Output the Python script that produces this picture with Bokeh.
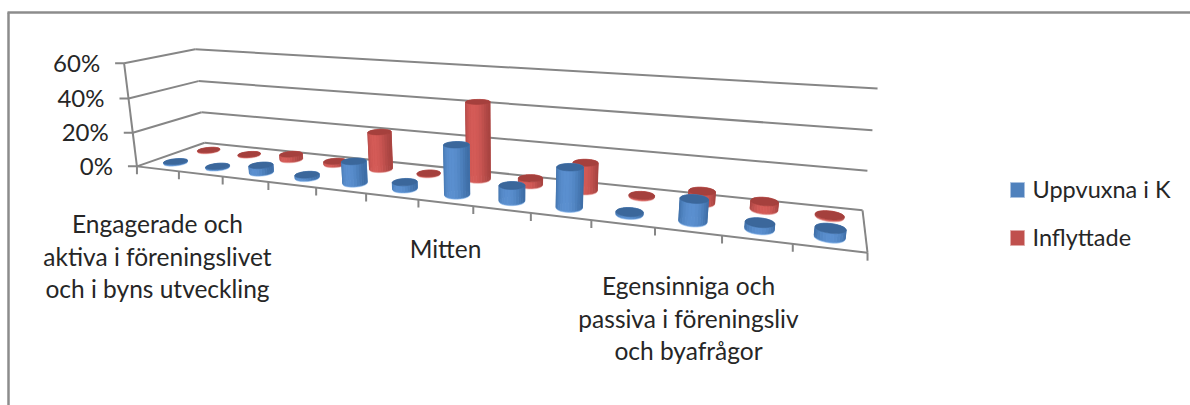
import numpy as np
from bokeh.plotting import figure
from bokeh.models import Range1d, ColumnDataSource
from bokeh.core.properties import value
from bokeh.embed import file_html
from bokeh.resources import INLINE

# ---- data (percent)
series_names = ["Uppvuxna i K", "Inflyttade"]
uppvuxna = [0.5, 0.5, 4.0, 1.5, 12.0, 3.5, 26.5, 8.0, 20.5, 1.0, 11.0, 3.0, 4.0]
inflyttade = [0.2, 0.2, 3.0, 1.5, 21.5, 0.2, 43.0, 3.5, 15.0, 0.5, 6.0, 4.0, 0.5]
y_ticks = [0, 20, 40, 60]
y_labels = ["0%", "20%", "40%", "60%"]
cat_groups = [
    ["Engagerade och", "aktiva i föreningslivet", "och i byns utveckling"],
    ["Mitten"],
    ["Egensinniga och", "passiva i föreningsliv", "och byafrågor"],
]
n_cat = len(uppvuxna)
FONT = "Lato"
GRAY = "#868686"
TXT = "#262626"

# ---- camera fitted to the chart's box corners (u, depth, percent) -> screen px
calib = [
    ((0, 0, 0), (137, 165)), ((0, 1, 0), (203, 143)),
    ((1, 0, 0), (867, 252)), ((1, 1, 0), (862, 210)),
    ((0, 0, 60), (123, 63)), ((0, 1, 60), (195, 49)),
    ((1, 1, 60), (877, 88)), ((0, 1, 20), (202, 111)),
    ((1, 1, 20), (867, 170)), ((6 / 13, 0, 0), (418, 200)),
]
A, b = [], []
for (X, Y, Z), (sx, sy) in calib:
    A.append([X, Y, Z, 1, 0, 0, 0, 0, -sx * X, -sx * Y, -sx * Z]); b.append(sx)
    A.append([0, 0, 0, 0, X, Y, Z, 1, -sy * X, -sy * Y, -sy * Z]); b.append(sy)
M = np.append(np.linalg.lstsq(np.array(A, float), np.array(b, float), rcond=None)[0], 1.0).reshape(3, 4)


def proj(u, w, h):
    v = M @ np.array([u, w, h, 1.0])
    return v[0] / v[2], v[1] / v[2]


def mix(c1, c2, t):
    a = [int(c1[i:i + 2], 16) for i in (1, 3, 5)]
    d = [int(c2[i:i + 2], 16) for i in (1, 3, 5)]
    return "#%02x%02x%02x" % tuple(int(round(p + (q - p) * t)) for p, q in zip(a, d))


p = figure(width=1190, height=405, output_backend="svg", toolbar_location=None,
           x_range=Range1d(0, 1190), y_range=Range1d(405, 0), min_border=0,
           outline_line_color=None, background_fill_color="#ffffff")
p.xaxis.visible = False
p.yaxis.visible = False
p.grid.visible = False

# outer frame
p.multi_line([[8, 8], [7, 1190]], [[12, 405], [12, 12]], line_color="#8c8c8c", line_width=2.5)

# walls, floor and axes
xs, ys = [], []


def seg(a, b):
    pa, pb = proj(*a), proj(*b)
    xs.append([pa[0], pb[0]])
    ys.append([pa[1], pb[1]])


for t in y_ticks:
    seg((0, 0, t), (0, 1, t))
    seg((0, 1, t), (1, 1, t))
    x0, y0 = proj(0, 0, t)
    xs.append([x0 - 9, x0])
    ys.append([y0, y0])
seg((0, 0, 0), (0, 0, 60))
seg((0, 0, 0), (1, 0, 0))
seg((1, 0, 0), (1, 1, 0))
for i in range(1, n_cat + 1):
    x0, y0 = proj(i / n_cat, 0, 0)
    xs.append([x0, x0])
    ys.append([y0, y0 + 8])
x0, y0 = proj(0, 0, 0)
xs.append([x0, x0])
ys.append([y0, y0 + 8])
p.multi_line(xs, ys, line_color=GRAY, line_width=2)

# cylinders
RU, RW, NF = 0.215 / n_cat, 0.115, 28
pal = [("#4f81bd", "#5a8fcf", "#3f6ea6", "#3b679b", "#86b2e6"),
       ("#c0504d", "#d45b57", "#a84441", "#a5403d", "#e59a97")]


def cylinder(i, wc, val, c, out):
    base, light, edge, top, rim = c
    uc = (i + 0.5) / n_cat
    th = np.linspace(0, 2 * np.pi, NF + 1)
    ring = lambda h: [proj(uc + RU * np.cos(a), wc + RW * np.sin(a), h) for a in th]
    rb = ring(-0.45)
    out.append(([q[0] for q in rb], [q[1] for q in rb], rim))
    r0, r1 = ring(0), ring(val)
    order = sorted(range(NF), key=lambda k: -np.sin((th[k] + th[k + 1]) / 2))
    for k in order:
        m = (th[k] + th[k + 1]) / 2
        s = abs(np.cos(m))
        col = mix(light, edge, s ** 2.2)
        out.append(([r0[k][0], r0[k + 1][0], r1[k + 1][0], r1[k][0]],
                    [r0[k][1], r0[k + 1][1], r1[k + 1][1], r1[k][1]], col))
    out.append(([q[0] for q in r1], [q[1] for q in r1], top))


shapes = []
for s_idx, (vals, wc) in enumerate(((inflyttade, 0.75), (uppvuxna, 0.25))):
    for i in range(n_cat):
        cylinder(i, wc, vals[i], pal[1 - s_idx], shapes)
src = ColumnDataSource(dict(xs=[q[0] for q in shapes], ys=[q[1] for q in shapes], c=[q[2] for q in shapes]))
p.patches("xs", "ys", source=src, fill_color="c", line_color="c", line_width=0.5)

# y tick labels
lx, ly = [], []
for t in y_ticks:
    x0, y0 = proj(0, 0, t)
    lx.append(x0 - 24)
    ly.append(y0 - 1)
p.text(lx, ly, text=y_labels, text_font=value(FONT), text_font_size="24px", text_color=TXT,
       text_align="right", text_baseline="middle")

# category labels
group_x = [157, 445, 688]
group_y = [223, 248, 285]
LINE = 32.5
tx, ty, tt = [], [], []
for g, gx, gy in zip(cat_groups, group_x, group_y):
    for j, line in enumerate(g):
        tx.append(gx)
        ty.append(gy + j * LINE)
        tt.append(line)
p.text(tx, ty, text=tt, text_font=value(FONT), text_font_size="24.5px", text_color=TXT,
       text_align="center", text_baseline="middle")

# legend
leg_y = [189.5, 237.5]
leg_cols = ["#4f81bd", "#c0504d"]
leg_edge = ["#a9c1e0", "#e0a8a6"]
p.rect([1017, 1017], leg_y, width=14, height=15, fill_color=leg_cols, line_color=leg_edge, line_width=1)
p.text([1032, 1032], [y - 1 for y in leg_y], text=series_names, text_font=value(FONT), text_font_size="23.5px",
       text_color=TXT, text_align="left", text_baseline="middle")

open("out.html", "w").write(file_html(p, INLINE))
